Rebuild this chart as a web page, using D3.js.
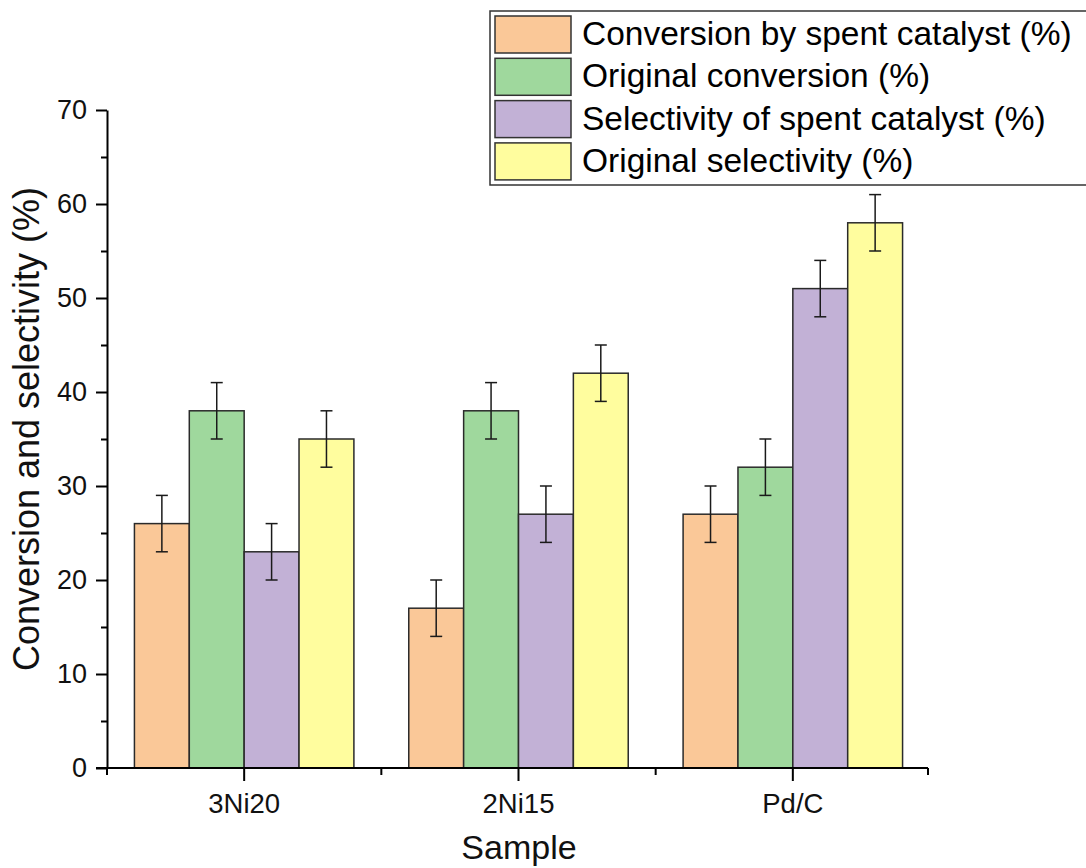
<!DOCTYPE html>
<html>
<head>
<meta charset="utf-8">
<script src="https://cdn.jsdelivr.net/npm/d3@7"></script>
<style>
  html, body { margin: 0; padding: 0; background: #fff; }
  svg { display: block; font-family: Arial, "Liberation Sans", sans-serif; }
</style>
</head>
<body>
<svg id="chart" width="1086" height="868"></svg>
<script>
// Samples and measured series (%), each with a ±3 error estimate
const samples = ["3Ni20", "2Ni15", "Pd/C"];
const seriesNames = [
  "Conversion by spent catalyst (%)",
  "Original conversion (%)",
  "Selectivity of spent catalyst (%)",
  "Original selectivity (%)"
];
const spentConversion = [26, 17, 27];
const originalConversion = [38, 38, 32];
const spentSelectivity = [23, 27, 51];
const originalSelectivity = [35, 42, 58];
const spentConversionErr = [3, 3, 3];
const originalConversionErr = [3, 3, 3];
const spentSelectivityErr = [3, 3, 3];
const originalSelectivityErr = [3, 3, 3];
const yTicks = [0, 10, 20, 30, 40, 50, 60, 70];
const yMinorTicks = [5, 15, 25, 35, 45, 55, 65];
const colors = ["#fac898", "#9fd89d", "#c2b1d6", "#fffd9e"];

const seriesValues = [spentConversion, originalConversion, spentSelectivity, originalSelectivity];
const seriesErrors = [spentConversionErr, originalConversionErr, spentSelectivityErr, originalSelectivityErr];

const svg = d3.select("#chart");
const plotLeft = 107, plotRight = 930, plotTop = 110, plotBottom = 768;
const fontStack = "Arial, 'Liberation Sans', sans-serif";

const x = d3.scaleBand().domain(samples).range([plotLeft, plotRight]).padding(0);
const x1 = d3.scaleBand().domain(seriesNames).range([0, x.bandwidth()]).paddingOuter(0.5).paddingInner(0);
const y = d3.scaleLinear().domain([0, 70]).range([plotBottom, plotTop]);

// Bars with error bars
const rows = [];
samples.forEach((s, i) => {
  seriesNames.forEach((n, j) => {
    rows.push({ sample: s, name: n, value: seriesValues[j][i], err: seriesErrors[j][i], color: colors[j] });
  });
});
const cx = d => x(d.sample) + x1(d.name) + x1.bandwidth() / 2;

const g = svg.append("g");
g.selectAll("rect.bar").data(rows).join("rect")
  .attr("class", "bar")
  .attr("x", d => x(d.sample) + x1(d.name))
  .attr("y", d => y(d.value))
  .attr("width", x1.bandwidth())
  .attr("height", d => y(0) - y(d.value))
  .attr("fill", d => d.color)
  .attr("stroke", "#2a2a2a")
  .attr("stroke-width", 1.5);

const cap = 6;
const eb = g.selectAll("g.err").data(rows).join("g").attr("class", "err")
  .attr("stroke", "#1a1a1a").attr("stroke-width", 1.5);
eb.append("line")
  .attr("x1", cx).attr("x2", cx)
  .attr("y1", d => y(d.value + d.err))
  .attr("y2", d => y(d.value - d.err));
eb.append("line")
  .attr("x1", d => cx(d) - cap).attr("x2", d => cx(d) + cap)
  .attr("y1", d => y(d.value + d.err))
  .attr("y2", d => y(d.value + d.err));
eb.append("line")
  .attr("x1", d => cx(d) - cap).attr("x2", d => cx(d) + cap)
  .attr("y1", d => y(d.value - d.err))
  .attr("y2", d => y(d.value - d.err));

// Y axis with major and minor ticks
const yAxis = svg.append("g").attr("transform", `translate(${plotLeft},0)`)
  .call(d3.axisLeft(y).tickValues(yTicks).tickSize(11).tickPadding(9).tickSizeOuter(0));
svg.append("g").attr("transform", `translate(${plotLeft},0)`)
  .call(d3.axisLeft(y).tickValues(yMinorTicks).tickSize(6).tickFormat("").tickSizeOuter(0))
  .call(a => a.select(".domain").remove())
  .selectAll("line").attr("stroke", "#000").attr("stroke-width", 2);
yAxis.select(".domain").attr("stroke", "#000").attr("stroke-width", 2);
yAxis.selectAll(".tick line").attr("stroke", "#000").attr("stroke-width", 2);
yAxis.selectAll(".tick text").attr("font-size", 27).attr("fill", "#111")
  .attr("font-family", fontStack);

// X axis: major ticks at sample centres, minor ticks at group boundaries
const xAxis = svg.append("g").attr("transform", `translate(0,${plotBottom})`)
  .call(d3.axisBottom(x).tickSize(13).tickPadding(12).tickSizeOuter(0));
xAxis.select(".domain").attr("stroke", "#000").attr("stroke-width", 2)
  .attr("d", `M${plotLeft - 11},0H${plotRight - 2}`);
xAxis.selectAll(".tick line").attr("stroke", "#000").attr("stroke-width", 2);
xAxis.selectAll(".tick text").attr("font-size", 27.5).attr("fill", "#111")
  .attr("font-family", fontStack);
const bounds = x.domain().map(d => x(d)).concat([plotRight - 2]);
svg.append("g").selectAll("line").data(bounds).join("line")
  .attr("x1", d => d).attr("x2", d => d)
  .attr("y1", plotBottom).attr("y2", plotBottom + 7)
  .attr("stroke", "#000").attr("stroke-width", 2);

// Axis titles
svg.append("text")
  .attr("x", 519).attr("y", 859)
  .attr("text-anchor", "middle").attr("font-size", 34).attr("fill", "#111")
  .text("Sample");
svg.append("text")
  .attr("transform", "translate(39,429) rotate(-90)")
  .attr("text-anchor", "middle").attr("font-size", 36).attr("fill", "#111")
  .text("Conversion and selectivity (%)");

// Legend
const lg = svg.append("g");
lg.append("rect").attr("x", 490).attr("y", 11).attr("width", 610).attr("height", 174)
  .attr("fill", "#fff").attr("stroke", "#333").attr("stroke-width", 1.5);
const items = lg.selectAll("g.item").data(seriesNames).join("g").attr("class", "item")
  .attr("transform", (d, i) => `translate(0,${16 + i * 42.3})`);
items.append("rect").attr("x", 495).attr("y", 0).attr("width", 76).attr("height", 37)
  .attr("fill", (d, i) => colors[i]).attr("stroke", "#333").attr("stroke-width", 1.5);
items.append("text").attr("x", 582).attr("y", 29)
  .attr("font-size", 33.5).attr("fill", "#000").text(d => d);
</script>
</body>
</html>
